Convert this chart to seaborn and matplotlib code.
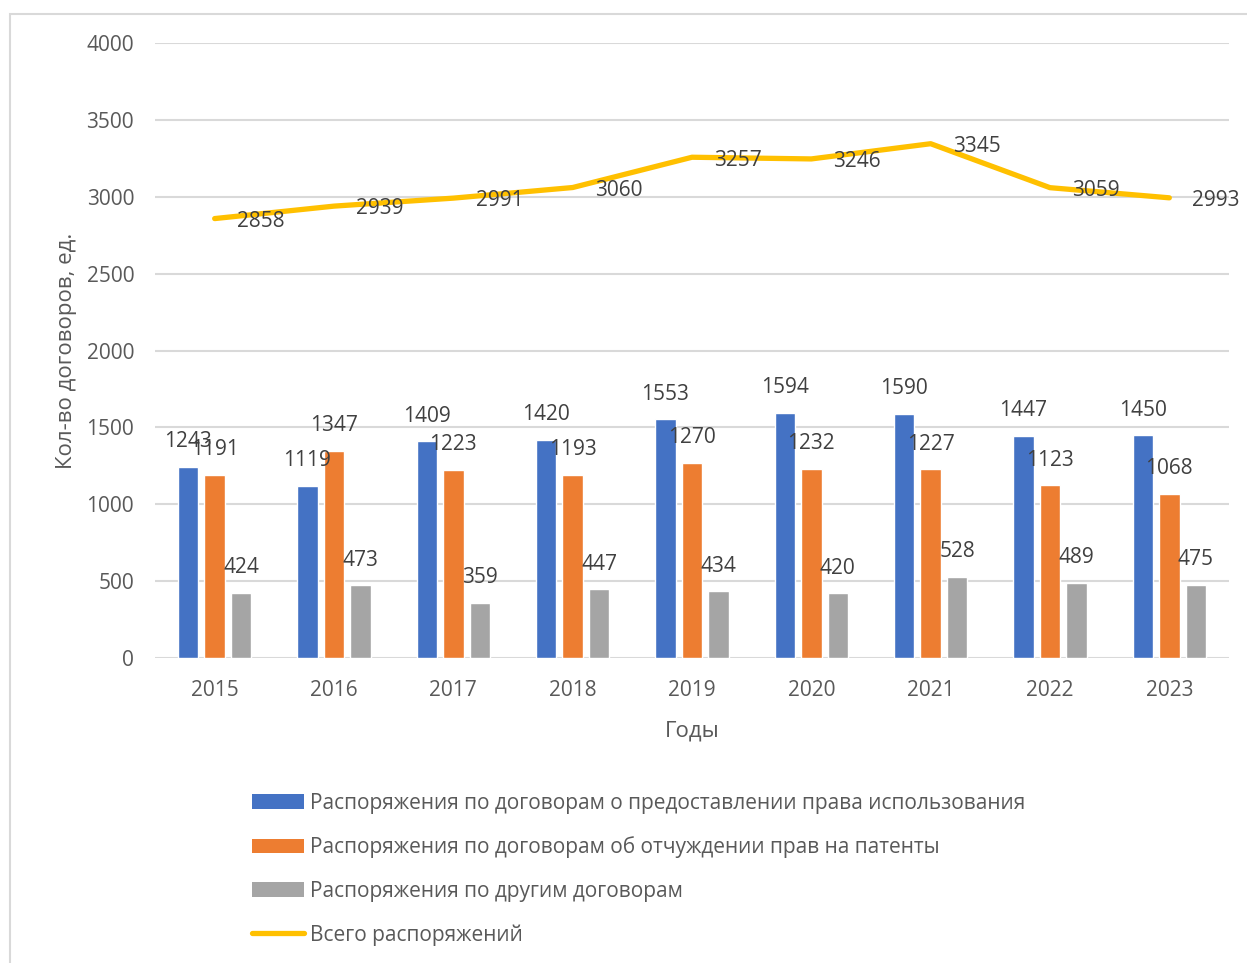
import numpy as np
import pandas as pd
import matplotlib
matplotlib.use("Agg")
import matplotlib.pyplot as plt
import seaborn as sns
from matplotlib.patches import Patch, Rectangle
from matplotlib.lines import Line2D

# data
years = ["2015", "2016", "2017", "2018", "2019", "2020", "2021", "2022", "2023"]
use_rights = [1243, 1119, 1409, 1420, 1553, 1594, 1590, 1447, 1450]
patent_alienation = [1191, 1347, 1223, 1193, 1270, 1232, 1227, 1123, 1068]
other_contracts = [424, 473, 359, 447, 434, 420, 528, 489, 475]
total = [2858, 2939, 2991, 3060, 3257, 3246, 3345, 3059, 2993]

series_names = [
    "Распоряжения по договорам о предоставлении права использования",
    "Распоряжения по договорам об отчуждении прав на патенты",
    "Распоряжения по другим договорам",
]
total_name = "Всего распоряжений"

colors = ["#4472C4", "#ED7D31", "#A5A5A5"]
line_color = "#FFC000"
label_color = "#404040"
tick_color = "#595959"
grid_color = "#D9D9D9"
fs = 15

sns.set_style("white")
plt.rcParams['font.family'] = ['Open Sans', 'DejaVu Sans']

df = pd.DataFrame({
    "year": years * 3,
    "value": use_rights + patent_alienation + other_contracts,
    "series": [series_names[0]] * 9 + [series_names[1]] * 9 + [series_names[2]] * 9,
})

fig = plt.figure(figsize=(12.47, 9.63), dpi=100)
ax = fig.add_axes([155 / 1247, 1 - 658 / 963, (1229 - 155) / 1247, (658 - 43) / 963])

# outer chart frame
fig.patches.append(Rectangle((10 / 1247, -0.05), 1.2, 1 - 14 / 963 + 0.05,
                             transform=fig.transFigure, fill=False,
                             edgecolor="#D9D9D9", linewidth=1.5, zorder=0))

sns.barplot(data=df, x="year", y="value", hue="series", palette=colors,
            width=0.667, gap=0.23, saturation=1, legend=False, ax=ax, zorder=3)

x_pos = np.arange(len(years))
sns.lineplot(x=x_pos, y=total, color=line_color, linewidth=3.8, ax=ax,
             zorder=4, solid_capstyle="round")

# bar labels
for cont in ax.containers:
    for bar in cont:
        h = bar.get_height()
        ax.annotate(f"{int(round(h))}", (bar.get_x() + bar.get_width() / 2, h),
                    xytext=(0, 18), textcoords="offset points",
                    ha="center", va="center", fontsize=fs, color=label_color, zorder=5)

# line labels
for x, v in zip(x_pos, total):
    ax.annotate(f"{v}", (x, v), xytext=(16, -2), textcoords="offset points",
                ha="left", va="center", fontsize=fs, color=label_color, zorder=5)

ax.set_xlim(-0.5, len(years) - 0.5)
ax.set_ylim(0, 4000)
ax.set_yticks(range(0, 4001, 500))
ax.grid(axis="y", color=grid_color, linewidth=1.5, zorder=0)
ax.set_axisbelow(True)
for s in ax.spines.values():
    s.set_visible(False)
ax.tick_params(axis="both", length=0, labelsize=fs, labelcolor=tick_color)
ax.tick_params(axis="y", pad=15)
ax.tick_params(axis="x", pad=16)

ax.set_xlabel("Годы", fontsize=16, color=tick_color, labelpad=14)
ax.set_ylabel("Кол-во договоров, ед.", fontsize=16, color=tick_color, labelpad=7)

handles = [Patch(facecolor=c, edgecolor="none") for c in colors]
handles.append(Line2D([0], [0], color=line_color, linewidth=3.8, solid_capstyle="round"))
leg = fig.legend(handles, series_names + [total_name], loc="upper left",
                 bbox_to_anchor=(233 / 1247, 1 - 774 / 963), frameon=False,
                 fontsize=fs, labelcolor=tick_color, handlelength=2.5,
                 handleheight=0.7, handletextpad=0.3, labelspacing=1.08)

fig.savefig("out.png", dpi=100)
